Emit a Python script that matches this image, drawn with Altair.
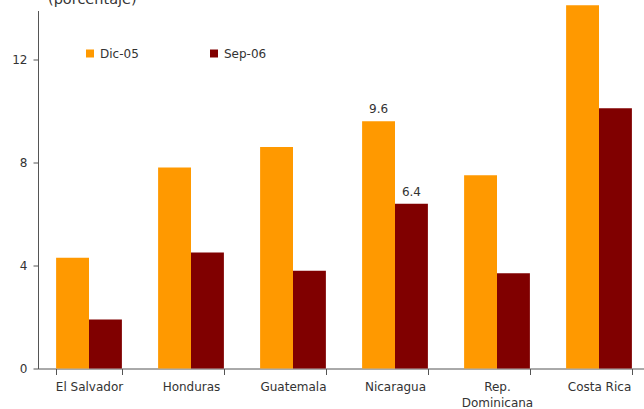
import altair as alt
import pandas as pd

# Bank indicator by country, December 2005 vs September 2006 (percent)
countries = ["El Salvador", "Honduras", "Guatemala", "Nicaragua", "Rep. Dominicana", "Costa Rica"]
dic_05 = [4.3, 7.8, 8.6, 9.6, 7.5, 14.1]
sep_06 = [1.9, 4.5, 3.8, 6.4, 3.7, 10.1]
series = ["Dic-05", "Sep-06"]
colors = ["#FF9900", "#800000"]
labelled = ["Nicaragua"]
y_ticks = [0, 4, 8, 12]
unit_label = "(porcentaje)"

rows = []
for c, a, b in zip(countries, dic_05, sep_06):
    rows.append({"pais": c, "serie": series[0], "valor": a})
    rows.append({"pais": c, "serie": series[1], "valor": b})
df = pd.DataFrame(rows)

FONT = "DejaVu Sans"
TXT = "#333333"
AXC = "#555555"

x_enc = alt.X(
    "pais:N",
    sort=countries,
    scale=alt.Scale(range=[0, 612], paddingInner=0.355, paddingOuter=0.1775),
    axis=alt.Axis(
        title=None,
        labelAngle=0,
        tickBand="extent",
        tickSize=6,
        labelPadding=7,
        labelFontSize=12,
        labelLineHeight=16,
        labelExpr="datum.label == 'Rep. Dominicana' ? ['Rep.', 'Dominicana'] : datum.label",
    ),
)
xo_enc = alt.XOffset("serie:N", sort=series, scale=alt.Scale(paddingInner=0, paddingOuter=0))
y_enc = alt.Y(
    "valor:Q",
    scale=alt.Scale(domain=[0, 13.9], nice=False),
    axis=alt.Axis(title=None, values=y_ticks, tickSize=5, labelPadding=6, labelFontSize=12, grid=False),
)

bars = alt.Chart(df).mark_bar().encode(
    x=x_enc,
    xOffset=xo_enc,
    y=y_enc,
    color=alt.Color(
        "serie:N",
        sort=series,
        scale=alt.Scale(domain=series, range=colors),
        legend=alt.Legend(
            title=None,
            orient="none",
            legendX=46,
            legendY=37,
            direction="horizontal",
            symbolType="square",
            symbolSize=64,
            symbolStrokeWidth=0,
            labelFontSize=12,
            labelOffset=4,
            columnPadding=69,
            padding=0,
        ),
    ),
)

labels = (
    alt.Chart(df)
    .transform_filter(alt.FieldOneOfPredicate(field="pais", oneOf=labelled))
    .mark_text(dy=-8, baseline="alphabetic", fontSize=12, font=FONT, color=TXT)
    .encode(x=x_enc, xOffset=xo_enc, y=y_enc, text=alt.Text("valor:Q", format=".1f"))
)

# Unit note above the plot, partly past the top edge
unit = (
    alt.Chart(pd.DataFrame({"t": [unit_label]}))
    .mark_text(align="left", baseline="alphabetic", fontSize=14.5, font=FONT, color=TXT)
    .encode(x=alt.value(10), y=alt.value(-7), text="t:N")
)

chart = (
    alt.layer(bars, labels, unit)
    .properties(
        width=606,
        height=358,
        autosize=alt.AutoSizeParams(type="none"),
        padding={"left": 38, "top": 10.5, "right": 0, "bottom": 41},
    )
    .configure_view(stroke=None)
    .configure_axis(
        labelFont=FONT,
        labelColor=TXT,
        domainColor=AXC,
        tickColor=AXC,
        domainWidth=1,
        tickWidth=1,
    )
    .configure_legend(labelFont=FONT, labelColor=TXT)
)

chart.save("out.html", embed_options={"renderer": "svg", "actions": False})
